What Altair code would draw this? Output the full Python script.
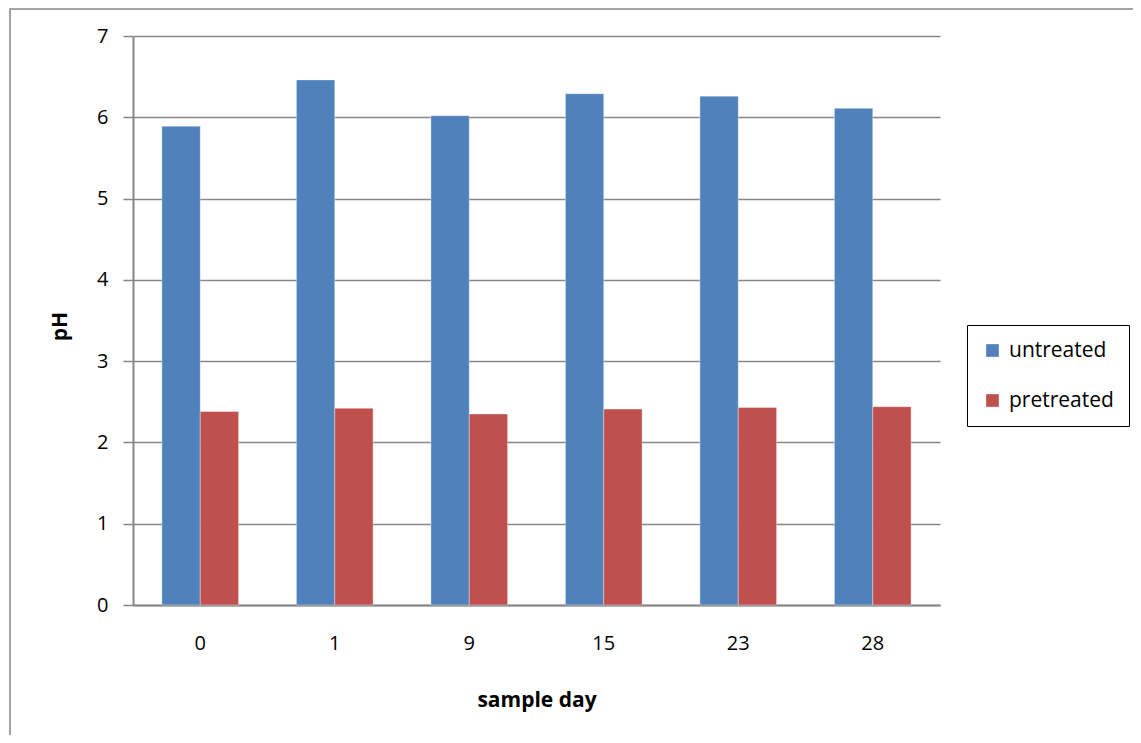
import altair as alt
import pandas as pd

days = ["0", "1", "9", "15", "23", "28"]
untreated = [5.89, 6.46, 6.02, 6.29, 6.26, 6.11]
pretreated = [2.38, 2.42, 2.35, 2.41, 2.43, 2.44]
series_names = ["untreated", "pretreated"]
series_colors = ["#4F81BD", "#C0504D"]
y_ticks = [0, 1, 2, 3, 4, 5, 6, 7]

rows = []
for d, u, p in zip(days, untreated, pretreated):
    rows.append({"day": d, "series": "untreated", "pH": u})
    rows.append({"day": d, "series": "pretreated", "pH": p})
df = pd.DataFrame(rows)

FONT = "Open Sans"
GRAY = "#868686"

bars = alt.Chart(df).mark_bar(stroke="#ffffff", strokeWidth=0.6, strokeOpacity=0.6).encode(
    x=alt.X("day:N", sort=days,
            scale=alt.Scale(paddingInner=0.43, paddingOuter=0.215),
            axis=alt.Axis(title="sample day", labelAngle=0, labelFontSize=20,
                          labelFont=FONT, labelColor="#000", labelPadding=28,
                          ticks=False, domainColor=GRAY, domainWidth=2,
                          titleFont=FONT, titleFontSize=21, titleFontWeight="bold",
                          titleColor="#000", titleY=95, titleBaseline="middle")),
    xOffset=alt.XOffset("series:N", sort=series_names,
                        scale=alt.Scale(paddingInner=0, paddingOuter=0)),
    y=alt.Y("pH:Q", scale=alt.Scale(domain=[0, 7], nice=False),
            axis=alt.Axis(title="pH", values=y_ticks, format="d", grid=True,
                          gridColor=GRAY, gridWidth=1.5, tickColor=GRAY, tickSize=10,
                          tickWidth=1.5, domainColor=GRAY, domainWidth=2,
                          labelFont=FONT, labelFontSize=20, labelColor="#000",
                          labelPadding=15,
                          titleFont=FONT, titleFontSize=21, titleFontWeight="bold",
                          titleColor="#000", titleX=-73, titleY=290,
                          titleAngle=270, titleBaseline="middle", titleAlign="center")),
    color=alt.Color("series:N", sort=series_names,
                    scale=alt.Scale(domain=series_names, range=series_colors),
                    legend=alt.Legend(title=None, orient="none", legendX=834, legendY=289,
                                      symbolType="square", symbolSize=160,
                                      symbolStrokeWidth=0, labelFont=FONT,
                                      labelFontSize=21, labelColor="#000",
                                      rowPadding=28, padding=15,
                                      strokeColor="#000", fillColor="#fff",
                                      labelOffset=6)),
)

border = alt.Chart(pd.DataFrame({"a": [0]})).mark_rect(
    fill=None, stroke=GRAY, strokeWidth=1.5
).encode(
    x=alt.value(-123), x2=alt.value(1300), y=alt.value(-27), y2=alt.value(900)
)

chart = alt.layer(border, bars).properties(
    width=807, height=569,
    autosize=alt.AutoSizeParams(type="none"),
    padding={"left": 125, "top": 28, "right": 193, "bottom": 130},
).configure_view(stroke=None)

chart.save("out.html", embed_options={"renderer": "svg", "actions": False})
